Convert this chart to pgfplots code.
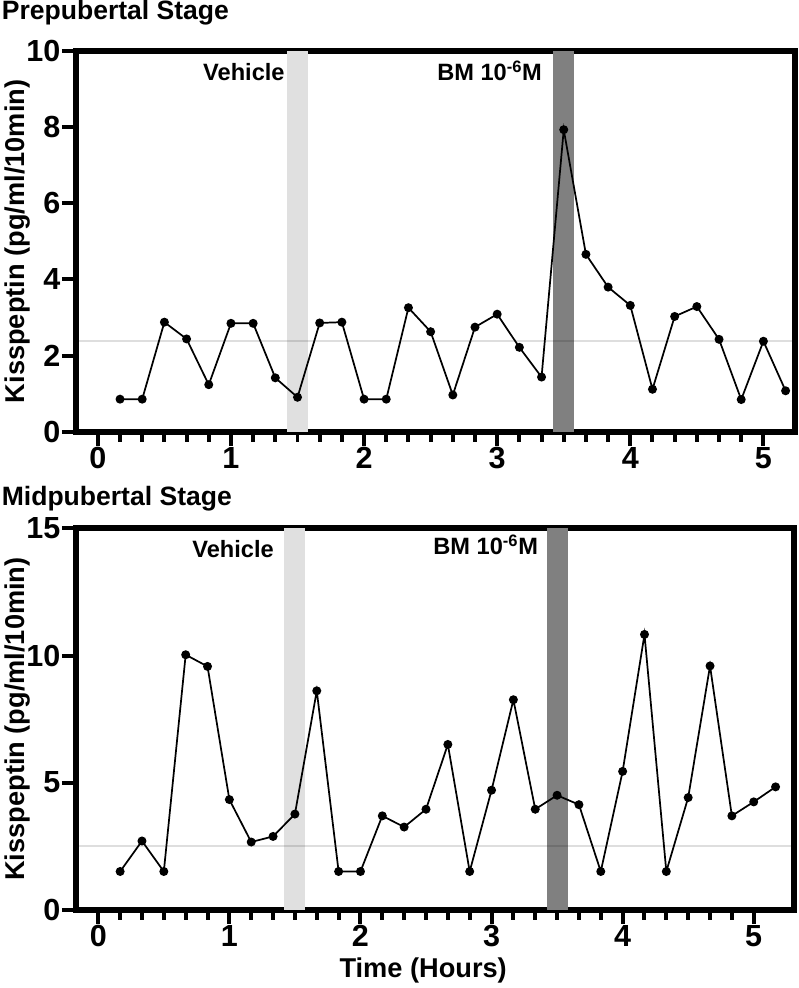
\documentclass[border=0pt]{standalone}
\usepackage{fontspec}
\setmainfont{Liberation Sans}
\usepackage{pgfplots}
\pgfplotsset{compat=1.18}
\usepackage{pgfplotstable}
\definecolor{lightbar}{gray}{0.88}
\definecolor{darkbar}{gray}{0.5}

\pgfplotstableread{
t v
0.1667 0.86
0.3333 0.86
0.5 2.88
0.6667 2.44
0.8333 1.24
1 2.85
1.1667 2.85
1.3333 1.42
1.5 0.91
1.6667 2.86
1.8333 2.88
2 0.86
2.1667 0.86
2.3333 3.26
2.5 2.63
2.6667 0.97
2.8333 2.75
3 3.09
3.1667 2.22
3.3333 1.44
3.5 7.93
3.6667 4.66
3.8333 3.80
4 3.32
4.1667 1.12
4.3333 3.03
4.5 3.29
4.6667 2.43
4.8333 0.85
5 2.38
5.1667 1.08
}\prepub

\pgfplotstableread{
t v
0.1667 1.5
0.3333 2.70
0.5 1.5
0.6667 10.03
0.8333 9.57
1 4.33
1.1667 2.66
1.3333 2.88
1.5 3.76
1.6667 8.61
1.8333 1.5
2 1.5
2.1667 3.69
2.3333 3.25
2.5 3.95
2.6667 6.5
2.8333 1.5
3 4.70
3.1667 8.26
3.3333 3.95
3.5 4.50
3.6667 4.13
3.8333 1.5
4 5.44
4.1667 10.83
4.3333 1.5
4.5 4.41
4.6667 9.59
4.8333 3.69
5 4.24
5.1667 4.83
}\midpub

\tikzset{annot/.style={font=\fontsize{17.8}{20}\selectfont\bfseries, inner sep=0pt, anchor=base east}}
\newcommand{\tickfont}{\fontsize{23}{26}\selectfont\bfseries}

\pgfplotsset{
  myaxis/.style={
    scale only axis,
    axis line style={line width=4.5pt},
    tick align=outside,
    xtick pos=bottom, ytick pos=left,
    major tick length=10.5pt, minor tick length=7.5pt,
    tick style={black, line width=3pt},
    xtick={0,1,2,3,4,5},
    minor xtick={0.1667,0.3333,0.5,0.6667,0.8333,1.1667,1.3333,1.5,1.6667,1.8333,2.1667,2.3333,2.5,2.6667,2.8333,3.1667,3.3333,3.5,3.6667,3.8333,4.1667,4.3333,4.5,4.6667,4.8333},
    xticklabel style={font=\tickfont, inner sep=1pt},
    yticklabel style={font=\tickfont, inner sep=1pt},
    /pgf/number format/assume math mode=true,
    label style={font=\fontsize{20.5}{24}\selectfont\bfseries},
    ylabel style={at={(axis description cs:-0.0816,0.5)}, anchor=center},
    title style={font=\fontsize{20}{24}\selectfont\bfseries, at={(axis description cs:0,1)}, anchor=base west, inner sep=0pt, xshift=-56pt},
    ylabel={Kisspeptin (pg/ml/10min)},
  },
  dataline/.style={black, line width=1.3pt, mark=*, mark size=2.7pt, mark options={solid, fill=black}},
  refline/.style={black, opacity=0.13, line width=1.8pt},
}

\begin{document}
\begin{tikzpicture}
\begin{axis}[myaxis, name=top,
  width=542.25pt, height=287.25pt,
  xmin=-0.165, xmax=5.24, ymin=0, ymax=10,
  ytick={0,2,4,6,8,10},
  title={Prepubertal Stage}, title style={yshift=17.8pt},
]
\addplot[fill=lightbar, draw=none] coordinates {(1.42,10) (1.58,10)} \closedcycle;
\addplot[fill=darkbar, draw=none] coordinates {(3.42,10) (3.58,10)} \closedcycle;
\addplot[refline] coordinates {(-0.165,2.38) (5.24,2.38)};
\addplot[dataline] table[x=t, y=v] {\prepub};
\node[annot] at (axis cs:1.405,9.22) {Vehicle};
\node[annot] at (axis cs:3.338,9.22) {BM 10\textsuperscript{-6}M};
\end{axis}

\begin{axis}[myaxis, name=bot,
  at={(top.south west)}, anchor=north west, yshift=-72.75pt,
  width=541.5pt, height=287.25pt,
  xmin=-0.171, xmax=5.31, ymin=0, ymax=15,
  ytick={0,5,10,15},
  title={Midpubertal Stage}, title style={yshift=11.5pt},
  xlabel={Time (Hours)},
  xlabel style={at={(axis description cs:0.5,0)}, anchor=base, yshift=-51.5pt, xshift=-9pt},
]
\addplot[fill=lightbar, draw=none] coordinates {(1.42,15) (1.58,15)} \closedcycle;
\addplot[fill=darkbar, draw=none] coordinates {(3.42,15) (3.58,15)} \closedcycle;
\addplot[refline] coordinates {(-0.171,2.5) (5.31,2.5)};
\addplot[dataline] table[x=t, y=v] {\midpub};
\node[annot] at (axis cs:1.341,13.87) {Vehicle};
\node[annot] at (axis cs:3.356,13.98) {BM 10\textsuperscript{-6}M};
\end{axis}
\end{tikzpicture}
\end{document}
